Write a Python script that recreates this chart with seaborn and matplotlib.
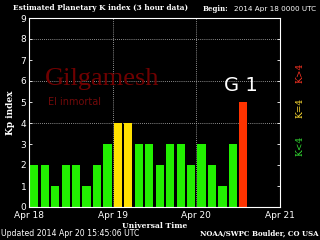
import matplotlib
matplotlib.use("Agg")
import matplotlib.pyplot as plt
import seaborn as sns
import pandas as pd
import numpy as np

kp_values = [2, 2, 1, 2, 2, 1, 2, 3, 4, 4, 3, 3, 2, 3, 3, 2, 3, 2, 1, 3, 5]
n_slots = 24
day_labels = ["Apr 18", "Apr 19", "Apr 20", "Apr 21"]
y_ticks = list(range(10))

def level(v):
    if v < 4:
        return "low"
    if v == 4:
        return "mid"
    return "high"

palette = {"low": "#22f000", "mid": "#ffe000", "high": "#ff3300"}

df = pd.DataFrame({
    "slot": [str(i) for i in range(len(kp_values))],
    "kp": kp_values,
    "level": [level(v) for v in kp_values],
})
order = [str(i) for i in range(n_slots)]

sns.set_style("dark")
fig = plt.figure(figsize=(3.2, 2.4), dpi=100, facecolor="black")
ax = fig.add_axes([29/320, 1-207/240, (280-29)/320, (207-18)/240])
ax.set_facecolor("black")

sns.barplot(data=df, x="slot", y="kp", hue="level", palette=palette, order=order,
            dodge=False, width=0.78, legend=False, ax=ax, linewidth=0, saturation=1)

ax.set_xlim(-0.5, n_slots - 0.5)
ax.set_ylim(0, 9)
ax.set_xticks([-0.5, 7.5, 15.5, 23.5])
ax.set_xticklabels(day_labels)
ax.set_yticks(y_ticks)
ax.tick_params(axis="both", colors="white", labelcolor="white", labelsize=6.5,
               direction="in", length=2, width=0.6, pad=2)
ax.tick_params(axis="y", right=True, left=True)
ax.tick_params(axis="x", bottom=False, pad=3)
ax.grid(False)
for y in [4, 6, 8]:
    ax.axhline(y, color="#bbbbbb", linestyle=(0, (1, 1.5)), linewidth=0.6, zorder=0.5)
for x in [7.5, 15.5]:
    ax.axvline(x, color="#bbbbbb", linestyle=(0, (1, 1.5)), linewidth=0.6, zorder=0.5)
for s in ax.spines.values():
    s.set_visible(True)
    s.set_color("white")
    s.set_linewidth(0.8)

ax.set_xlabel("Universal Time", color="white", fontsize=5.5, family="DejaVu Serif",
              fontweight="bold", labelpad=1)
ax.set_ylabel("Kp index", color="white", fontsize=6.5, family="DejaVu Serif",
              fontweight="bold", labelpad=4)

fig.text(13/320, 1-8/240, "Estimated Planetary K index (3 hour data)", color="white",
         fontsize=5.3, family="DejaVu Serif", fontweight="bold", va="center", ha="left")
fig.text(203/320, 1-9/240, "Begin:", color="white", fontsize=5, family="DejaVu Serif",
         fontweight="bold", va="center", ha="left")
fig.text(234/320, 1-9/240, "2014 Apr 18 0000 UTC", color="white", fontsize=5.2,
         va="center", ha="left")
fig.text(1/320, 1-234/240, "Updated 2014 Apr 20 15:45:06 UTC", color="white", fontsize=5.6,
         va="center", ha="left")
fig.text(319/320, 1-234/240, "NOAA/SWPC Boulder, CO USA", color="white", fontsize=5,
         family="DejaVu Serif", fontweight="bold", va="center", ha="right")

fig.text(45/320, 1-79/240, "Gilgamesh", color="#700000", fontsize=19, family="Liberation Serif",
         va="center", ha="left")
fig.text(48/320, 1-102/240, "El inmortal", color="#700a0a", fontsize=7,
         va="center", ha="left")
fig.text(241/320, 1-85/240, "G 1", color="white", fontsize=14, va="center", ha="center")

fig.text(300/320, 1-73/240, "K>4", color="#ff3322", fontsize=6.5, family="DejaVu Serif",
         rotation=90, va="center", ha="center")
fig.text(300/320, 1-108/240, "K=4", color="#ffdd33", fontsize=6.5, family="DejaVu Serif",
         rotation=90, va="center", ha="center")
fig.text(300/320, 1-146/240, "K<4", color="#33dd33", fontsize=6.5, family="DejaVu Serif",
         rotation=90, va="center", ha="center")

fig.savefig("out.png", dpi=100, facecolor="black")
